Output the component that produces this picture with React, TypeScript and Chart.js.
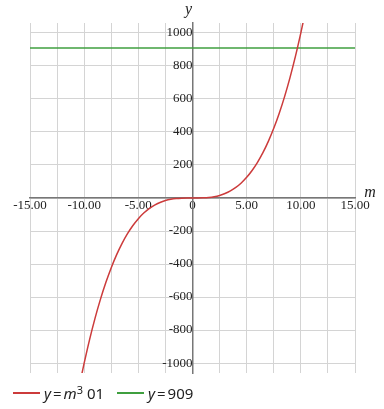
import React, { useEffect, useRef } from "react";
import { Chart, registerables } from "chart.js";

Chart.register(...registerables);

// Sample points of the red curve (m, y)
const curveM = [-10.2, -10, -9.5, -9, -8.5, -8, -7.5, -7, -6.5, -6, -5.5, -5, -4.5, -4, -3.5, -3, -2.5, -2, -1.5, -1, -0.5, 0, 0.5, 1, 1.5, 2, 2.5, 3, 3.5, 4, 4.5, 5, 5.5, 6, 6.5, 7, 7.5, 8, 8.5, 9, 9.5, 10, 10.2];
const curveY = [-1061.2, -1000, -857.4, -729, -614.1, -512, -421.9, -343, -274.6, -216, -166.4, -125, -91.1, -64, -42.9, -27, -15.6, -8, -3.4, -1, -0.1, 0, 0.1, 1, 3.4, 8, 15.6, 27, 42.9, 64, 91.1, 125, 166.4, 216, 274.6, 343, 421.9, 512, 614.1, 729, 857.4, 1000, 1061.2];
const flatM = [-15, 15];
const flatY = [909, 909];

const xMin = -15;
const xMax = 15;
const xTicks = [-15, -12.5, -10, -7.5, -5, -2.5, 0, 2.5, 5, 7.5, 10, 12.5, 15];
const xLabelled = [-15, -10, -5, 0, 5, 10, 15];
const yMin = -1060;
const yMax = 1060;
const yTicks = [-1000, -800, -600, -400, -200, 0, 200, 400, 600, 800, 1000];

const seriesColors = ["#cc3b3b", "#3f9f3f"];

export default function App() {
  const ref = useRef<HTMLCanvasElement | null>(null);

  useEffect(() => {
    if (!ref.current) return;
    const axisTitles = {
      id: "axisTitles",
      afterDraw(chart: any) {
        const { ctx, chartArea, scales } = chart;
        const ox = scales.x.getPixelForValue(0);
        const oy = scales.y.getPixelForValue(0);
        ctx.save();
        ctx.fillStyle = "#222";
        ctx.font = 'italic 16px "Liberation Serif"';
        ctx.textAlign = "center";
        ctx.textBaseline = "alphabetic";
        ctx.fillText("y", ox - 4, chartArea.top - 9);
        ctx.fillText("m", chartArea.right + 15, oy - 1);
        ctx.restore();
      },
    };
    const chart = new Chart(ref.current, {
      type: "line",
      data: {
        datasets: [
          {
            label: "y = m³ 01",
            data: curveM.map((m, i) => ({ x: m, y: curveY[i] })),
            borderColor: seriesColors[0],
            borderWidth: 1.5,
            pointRadius: 0,
            cubicInterpolationMode: "monotone",
          },
          {
            label: "y = 909",
            data: flatM.map((m, i) => ({ x: m, y: flatY[i] })),
            borderColor: seriesColors[1],
            borderWidth: 1.5,
            pointRadius: 0,
          },
        ],
      },
      options: {
        animation: false,
        responsive: false,
        maintainAspectRatio: false,
        layout: { padding: { left: 30, right: 29, top: 23, bottom: 36 } },
        plugins: { legend: { display: false }, tooltip: { enabled: false } },
        scales: {
          x: {
            type: "linear",
            position: { y: 0 },
            min: xMin,
            max: xMax,
            afterBuildTicks: (scale: any) => {
              scale.ticks = xTicks.map((v) => ({ value: v }));
            },
            grid: { color: "#d4d4d4", lineWidth: 1, drawTicks: false },
            border: { color: "#777", width: 1.5 },
            ticks: {
              autoSkip: false,
              maxRotation: 0,
              padding: 0,
              color: "#222",
              font: { family: "Liberation Serif", size: 13 },
              callback: (v: any) => {
                const n = Number(v);
                if (!xLabelled.includes(n)) return "";
                return n === 0 ? "0" : n.toFixed(2);
              },
            },
          },
          y: {
            type: "linear",
            position: { x: 0 },
            min: yMin,
            max: yMax,
            afterBuildTicks: (scale: any) => {
              scale.ticks = yTicks.map((v) => ({ value: v }));
            },
            grid: { color: "#d4d4d4", lineWidth: 1, drawTicks: false },
            border: { color: "#777", width: 1.5 },
            ticks: {
              autoSkip: false,
              padding: 1,
              color: "#222",
              font: { family: "Liberation Serif", size: 13 },
              callback: (v: any) => (Number(v) === 0 ? "" : String(v)),
            },
          },
        },
      },
      plugins: [axisTitles],
    });
    return () => chart.destroy();
  }, []);

  const legendItem = (color: string, content: React.ReactNode, left: number) => (
    <div style={{ position: "absolute", left, top: 382, height: 22, display: "flex", alignItems: "center" }}>
      <div style={{ width: 27, height: 1.5, background: color, marginRight: 4 }} />
      <span style={{ fontFamily: '"Noto Sans"', fontSize: 15, color: "#222", whiteSpace: "nowrap" }}>{content}</span>
    </div>
  );

  return (
    <div style={{ position: "fixed", left: 0, top: 0, width: 384, height: 409, background: "#fff" }}>
      <canvas ref={ref} width={384} height={409} />
      {legendItem(
        seriesColors[0],
        <>
          <i>y</i>
          <span style={{ margin: "0 2px" }}>=</span>
          <i>m</i>
          <sup style={{ fontSize: 11, verticalAlign: "top", lineHeight: "14px" }}>3</sup> 01
        </>,
        13
      )}
      {legendItem(
        seriesColors[1],
        <>
          <i>y</i>
          <span style={{ margin: "0 2px" }}>=</span>
          909
        </>,
        117
      )}
    </div>
  );
}
